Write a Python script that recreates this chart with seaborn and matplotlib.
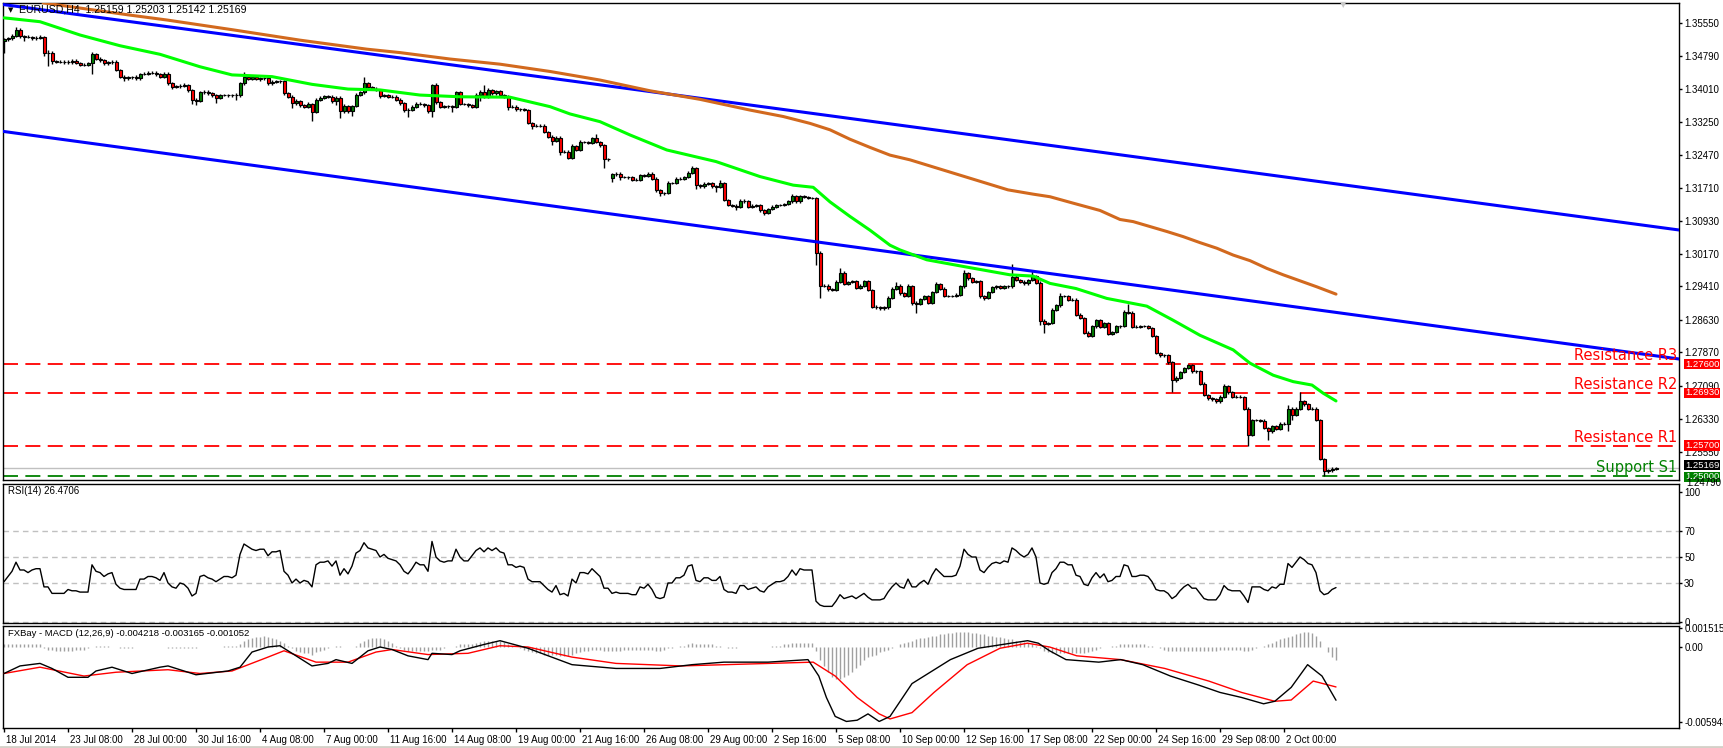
import numpy as np
import matplotlib
matplotlib.use("Agg")
import matplotlib.pyplot as plt
import matplotlib.transforms as mtransforms
from matplotlib.lines import Line2D
import seaborn as sns

# ---------------- data ----------------
first_open = 1.3514
open_overrides = {152: 1.3193}   # weekend gap
closes = [
    1.3517,1.3519,1.3525,1.3539,1.3524,1.3522,1.3522,1.3519,1.3521,1.3522,
    1.3484,1.3486,1.3466,1.3465,1.3465,1.3463,1.3465,1.3467,1.3462,1.3458,
    1.3458,1.3461,1.3482,1.3471,1.3469,1.3461,1.3463,1.3465,1.3445,1.3430,
    1.3426,1.3428,1.3429,1.3426,1.3436,1.3437,1.3438,1.3439,1.3435,1.3430,
    1.3437,1.3414,1.3406,1.3407,1.3409,1.3410,1.3399,1.3376,1.3373,1.3393,
    1.3395,1.3391,1.3386,1.3380,1.3387,1.3387,1.3386,1.3386,1.3387,1.3414,
    1.3430,1.3424,1.3428,1.3424,1.3426,1.3427,1.3414,1.3418,1.3419,1.3420,
    1.3391,1.3383,1.3368,1.3373,1.3364,1.3360,1.3366,1.3347,1.3375,1.3381,
    1.3384,1.3383,1.3372,1.3381,1.3349,1.3362,1.3349,1.3362,1.3387,1.3393,
    1.3414,1.3406,1.3402,1.3399,1.3385,1.3386,1.3383,1.3383,1.3376,1.3368,
    1.3352,1.3352,1.3360,1.3367,1.3366,1.3364,1.3349,1.3410,1.3370,1.3360,
    1.3362,1.3362,1.3360,1.3393,1.3366,1.3366,1.3363,1.3360,1.3387,1.3395,
    1.3383,1.3399,1.3391,1.3396,1.3386,1.3383,1.3360,1.3360,1.3354,1.3355,
    1.3352,1.3322,1.3316,1.3316,1.3316,1.3301,1.3290,1.3280,1.3288,1.3254,
    1.3255,1.3241,1.3268,1.3260,1.3278,1.3278,1.3276,1.3286,1.3278,1.3270,
    1.3237,1.3237,1.3202,1.3204,1.3196,1.3196,1.3195,1.3190,1.3189,1.3200,
    1.3198,1.3204,1.3192,1.3166,1.3158,1.3159,1.3182,1.3182,1.3192,1.3192,
    1.3196,1.3205,1.3216,1.3177,1.3174,1.3180,1.3181,1.3174,1.3173,1.3181,
    1.3142,1.3131,1.3129,1.3127,1.3141,1.3139,1.3127,1.3129,1.3131,1.3118,
    1.3113,1.3121,1.3127,1.3131,1.3131,1.3133,1.3139,1.3152,1.3139,1.3151,
    1.3149,1.3147,1.3147,1.3020,1.2943,1.2943,1.2934,1.2933,1.2951,1.2973,
    1.2947,1.2951,1.2953,1.2938,1.2943,1.2953,1.2933,1.2894,1.2892,1.2890,
    1.2892,1.2915,1.2935,1.2943,1.2925,1.2919,1.2942,1.2903,1.2901,1.2912,
    1.2919,1.2903,1.2928,1.2947,1.2936,1.2919,1.2919,1.2919,1.2922,1.2941,
    1.2972,1.2960,1.2952,1.2954,1.2918,1.2914,1.2928,1.2939,1.2941,1.2938,
    1.2942,1.2941,1.2964,1.2956,1.2952,1.2948,1.2956,1.2965,1.2950,1.2861,
    1.2853,1.2856,1.2887,1.2897,1.2919,1.2919,1.2910,1.2910,1.2875,1.2867,
    1.2833,1.2826,1.2848,1.2862,1.2846,1.2856,1.2830,1.2835,1.2848,1.2849,
    1.2882,1.2880,1.2846,1.2847,1.2849,1.2849,1.2844,1.2825,1.2786,1.2780,
    1.2780,1.2764,1.2722,1.2728,1.2741,1.2751,1.2758,1.2743,1.2743,1.2714,
    1.2688,1.2680,1.2678,1.2673,1.2684,1.2709,1.2694,1.2684,1.2684,1.2683,
    1.2656,1.2595,1.2630,1.2630,1.2628,1.2611,1.2603,1.2615,1.2609,1.2621,
    1.2620,1.2656,1.2641,1.2656,1.2674,1.2666,1.2656,1.2656,1.2630,1.2539,
    1.2510,1.2512,1.2516,1.25169,
]
# wick lengths above / below the body, in pips
up_wick = [
    3,3,4,7,5,3,4,3,3,6,  3,7,3,3,4,3,3,5,3,3,  3,4,6,4,4,3,4,3,3,3,
    3,4,3,4,3,4,5,3,4,3,  4,3,3,3,3,4,3,3,3,4,  3,4,3,3,3,3,3,3,4,3,
    10,4,3,4,3,3,3,4,3,3, 3,3,3,4,3,3,4,3,5,4,  4,3,3,4,3,4,3,3,4,3,
    16,3,3,3,3,3,4,3,3,3, 3,4,3,3,3,3,3,3,4,3,  3,3,3,4,3,3,3,3,4,4,
    15,4,3,3,3,3,3,3,3,3, 3,3,3,3,3,3,3,3,3,3,  3,3,4,3,4,3,3,4,10,3,
    3,3,3,3,3,3,3,3,3,4,  3,4,3,3,3,3,4,3,4,3,  3,4,5,3,3,4,3,3,3,8,
    3,3,3,3,4,3,3,3,3,3,  3,3,3,3,3,3,4,4,3,3,  3,3,3,3,4,3,3,3,4,10,
    3,3,3,4,3,3,3,3,3,3,  3,3,4,8,3,3,4,3,3,3,  3,3,3,4,3,3,3,3,3,4,
    8,3,3,3,3,3,3,3,3,3,  3,3,29,3,3,3,3,13,3,3, 3,3,3,3,6,3,3,3,3,3,
    3,3,3,3,3,3,3,3,3,3,  3,17,3,3,3,3,3,3,3,3, 3,3,3,3,3,3,3,3,3,3,
    3,3,3,3,3,4,3,3,3,3,  3,3,3,3,3,3,3,3,3,3,  3,8,3,3,21,3,3,3,3,3,
    3,3,3,3,
]
lo_wick = [
    30,3,3,3,3,10,3,4,3,3, 5,30,7,3,3,4,3,5,3,4, 3,3,26,3,4,4,3,3,3,4,
    6,3,4,3,3,3,3,3,4,4,   3,3,4,3,3,3,4,10,10,3, 3,3,4,12,3,3,3,3,10,4,
    3,3,3,3,4,3,4,3,3,3,   4,4,12,3,4,4,3,20,2,3, 3,3,4,8,15,3,4,10,3,3,
    3,3,3,3,4,3,3,3,3,3,   5,16,3,3,3,4,4,12,3,4, 3,4,12,3,3,3,3,3,3,15,
    3,3,3,3,3,3,8,3,3,3,   3,3,8,3,3,3,3,10,3,7,  3,3,3,3,3,3,3,3,3,4,
    20,3,8,3,7,3,3,3,3,3,  3,3,3,4,6,3,3,3,3,3,   3,3,3,10,3,3,3,3,12,3,
    3,3,3,8,3,3,3,3,3,4,   5,3,3,3,3,3,3,3,3,3,   3,3,3,28,28,3,4,3,3,3,
    3,3,3,3,3,4,3,3,3,3,   3,3,3,3,3,3,3,5,22,3,  3,3,3,3,3,3,3,3,3,3,
    3,3,3,3,3,4,3,3,3,3,   3,3,3,3,3,3,3,3,3,10,  20,3,3,3,3,3,3,3,3,3,
    4,3,3,3,3,3,3,3,3,3,   3,3,3,3,3,3,3,3,3,3,   3,3,28,3,3,3,3,3,3,3,
    3,3,4,4,3,3,3,3,3,3,   3,27,3,3,3,3,20,3,3,3, 3,15,12,3,3,3,3,3,3,3,
    10,3,3,3,
]
# moving averages (bar index, price)
ma50_idx = [0, 9, 19, 29, 39, 49, 57, 67, 77, 86, 94, 104, 114, 126.5, 136.5, 141.5, 149,
            156.5, 165.7, 178, 189, 197.3, 202.3, 206.5, 211.5, 216.5, 221.5, 224, 230.7,
            240.7, 251.5, 257.3, 261.5, 268, 275.7, 285.7, 292.3, 299, 307.3, 311.5, 317.3,
            322.3, 327, 329.8, 333]
ma50_val = [1.3567, 1.3558, 1.3527, 1.3502, 1.3482, 1.3453, 1.3434, 1.3430, 1.3412, 1.3401,
            1.3399, 1.3387, 1.3383, 1.3382, 1.3360, 1.3343, 1.3325, 1.3294, 1.3259, 1.3232,
            1.3197, 1.3177, 1.3172, 1.3138, 1.3104, 1.3072, 1.3037, 1.3026, 1.3003, 1.2986,
            1.2968, 1.2965, 1.2948, 1.2936, 1.2913, 1.2895, 1.2862, 1.2827, 1.2793, 1.2762,
            1.2734, 1.2719, 1.2711, 1.2692, 1.2674]
ma200_idx = [9.75, 31, 40.7, 57.3, 74, 90.7, 99, 111.5, 124, 136.5, 149, 161.5, 174, 186.5,
             194.8, 201.5, 206.5, 211.5, 216.5, 221.5, 226.5, 251, 257.3, 261.5, 267.3, 274,
             279, 282.3, 290.7, 294.8, 299, 303.2, 307.3, 311.5, 315.7, 319.8, 324, 328.2, 333]
ma200_val = [1.3602, 1.3574, 1.3562, 1.3539, 1.3515, 1.3494, 1.3486, 1.3471, 1.3459, 1.3442,
             1.3422, 1.3397, 1.3377, 1.3352, 1.3337, 1.3321, 1.3306, 1.3284, 1.3265, 1.3247,
             1.3236, 1.3166, 1.3156, 1.3150, 1.3135, 1.3118, 1.3097, 1.3092, 1.3069, 1.3057,
             1.3043, 1.3030, 1.3014, 1.3001, 1.2983, 1.2968, 1.2954, 1.2940, 1.2923]
# channel trend lines (bar index, price)
upper_trend_x = [-1.0, 418.75]
upper_trend_y = [1.3599, 1.30725]
lower_trend_x = [-1.0, 418.75]
lower_trend_y = [1.33033, 1.27718]
# horizontal levels
level_names = ["Resistance R3", "Resistance R2", "Resistance R1", "Support S1"]
level_values = [1.2760, 1.2693, 1.2570, 1.2500]
level_colors = ["#ff0000", "#ff0000", "#ff0000", "#008000"]
bid_price = 1.25169
price_ticks = [1.3555, 1.3479, 1.3401, 1.3325, 1.3247, 1.3171, 1.3093, 1.3017,
               1.2941, 1.2863, 1.2787, 1.2709, 1.2633, 1.2555]
# RSI(14)
rsi = [
    31,35,39,46,40,40,38,40,41,41, 27,27,22,22,22,22,25,24,24,23, 23,23,44,39,38,35,37,38,29,26,
    25,25,25,25,33,33,35,35,34,32, 38,30,27,26,30,29,26,20,22,35, 36,34,33,31,33,35,35,34,36,52,
    60,58,56,55,56,56,51,54,54,55, 39,36,30,33,30,32,31,27,44,46, 46,47,43,47,36,41,37,43,53,55,
    61,57,56,55,50,52,49,48,47,44, 39,37,41,46,44,44,39,62,50,47, 46,47,47,56,50,47,47,51,55,57,
    54,57,55,57,54,53,44,44,42,43, 42,33,31,31,31,28,25,23,28,21, 22,20,33,30,38,38,37,41,38,35,
    26,26,22,23,22,22,22,21,21,27, 26,29,25,19,18,19,30,30,34,34, 36,43,44,32,31,34,34,32,32,35,
    25,23,23,22,28,28,25,26,27,24, 23,27,29,31,31,32,35,40,36,41, 40,40,40,16,13,12,12,12,16,21,
    18,19,20,18,20,22,19,17,17,17, 18,23,27,30,27,26,33,27,27,30, 32,29,36,41,38,35,35,35,36,43,
    56,52,50,50,40,38,42,45,46,45, 47,46,57,55,52,50,52,57,50,30, 29,30,38,41,46,46,44,44,36,35,
    29,28,34,38,34,37,31,32,35,35, 44,43,35,35,36,36,35,31,25,24, 24,22,18,20,24,27,29,26,26,22,
    18,17,17,17,21,28,25,24,24,24, 20,15,27,27,27,25,24,27,26,29, 29,45,42,46,50,48,45,44,38,24,
    21,22,25,26.47,
]
rsi_levels = [70, 50, 30]
# MACD (12,26,9) main line and signal, in units of 1e-4
macd_idx = [0,4,9,12,16,21,23,27,32,39,41,48,56,59,62,66,69,72,77,81,83,87,91,94,97,101,106,107,
            112,114,120,124,131,142,153,164,172,180,191,201,203.7,205.6,207.8,210.6,213.3,216,
            218.8,221.5,227,236.6,243.5,251.7,255.9,258.6,261.4,265.5,273.7,279.2,284.7,291.6,
            298.5,304,309.4,314.9,317.7,321.8,325.9,329.5,333]
macd_val = [-21,-15,-13,-17,-24,-24,-19,-16,-21,-16,-15,-22,-19,-16,-4,0,1,-5,-15,-13,-10,-13,-3,
            0,-2,-7,-10,-5,-6,-3,2,5,-1,-14,-17,-17,-14,-12,-12,-10,-23,-40,-55,-59,-58,-53,
            -59,-55,-29,-10,-1,3,5,3,-3,-10,-12,-10,-14,-23,-30,-36,-40,-45,-43,-32,-14,-23,-42.18]
signal_idx = [0,9,20,28,41,49,57,66,70,78,86,93,97,106,116,124,131,142,153,169.3,191.3,202.3,
              207.8,213.3,218.8,221.5,227,232.5,240.8,249,255.9,261.4,268.2,279.2,290.2,301.2,
              309.4,317.7,321.8,327.3,333]
signal_val = [-21,-16,-23,-20,-18,-21,-19,-8,-3,-12,-12,-4,-2,-6,-5,1,0,-8,-13,-15,-13,-12,
              -23,-40,-53,-57,-52,-36,-14,-1,3,0,-7,-10,-17,-27,-36,-43,-42,-27,-31.65]
hist = [
    2,2,2,2,2,2,2,2,2,2, -1,-2,-2,-3,-3,-3,-3,-3,-2,-2, -2,-1,0,1,1,1,1,0,0,-1,
    -1,-1,-1,0,0,0,0,0,0,0, 0,-1,-1,-1,-1,-1,-1,-1,-1,0, 0,0,0,0,0,1,1,1,1,2,
    5,6,7,8,8,9,8,7,6,5, 3,1,-1,-3,-4,-5,-5,-6,-4,-3, -2,-1,0,1,1,0,0,0,1,3,
    5,6,7,7,7,6,5,3,1,-1, -2,-3,-3,-3,-3,-3,-3,-2,-2,-2, -1,0,0,1,2,2,2,2,3,4,
    5,5,5,5,5,4,2,1,0,-1, -2,-3,-4,-5,-5,-6,-6,-6,-6,-7, -7,-7,-6,-5,-4,-3,-3,-2,-2,-2,
    -3,-3,-3,-3,-3,-2,-2,-2,-2,-2, -2,-2,-2,-3,-3,-2,-1,-1,0,1, 1,2,3,2,2,2,2,2,1,1,
    0,-1,-1,-1,0,0,0,0,0,0, 0,0,1,1,1,2,2,3,3,3, 3,3,3,-3,-10,-15,-20,-24,-25,-25,
    -24,-22,-20,-17,-14,-10,-8,-7,-6,-4, -3,-2,-1,0,2,3,4,5,6,7, 7,8,9,9,10,10,11,11,12,12,
    12,12,11,11,10,10,9,9,8,8, 7,6,6,5,4,4,3,2,1,-1, -3,-4,-5,-5,-5,-5,-5,-5,-5,-5,
    -5,-4,-3,-2,-1,0,0,1,1,2, 2,2,2,2,2,2,1,1,0,-1, -2,-3,-3,-3,-3,-3,-3,-3,-3,-3,
    -3,-3,-3,-3,-2,-2,-2,-2,-2,-2, -3,-3,-2,-1,0,1,2,3,5,6, 7,8,9,10,11,12,12,11,9,5,
    0,-4,-8,-10.52,
]
macd_ticks = [0.001515, 0.0, -0.005943]
macd_tick_labels = ["0.001515", "0.00", "-0.005943"]
xtick_bars = list(range(0, 321, 16))
xtick_labels = ["18 Jul 2014", "23 Jul 08:00", "28 Jul 00:00", "30 Jul 16:00", "4 Aug 08:00",
                "7 Aug 00:00", "11 Aug 16:00", "14 Aug 08:00", "19 Aug 00:00", "21 Aug 16:00",
                "26 Aug 08:00", "29 Aug 00:00", "2 Sep 16:00", "5 Sep 08:00", "10 Sep 00:00",
                "12 Sep 16:00", "17 Sep 08:00", "22 Sep 00:00", "24 Sep 16:00", "29 Sep 08:00",
                "2 Oct 00:00"]
title_main = "EURUSD,H4  1.25159 1.25203 1.25142 1.25169"
title_rsi = "RSI(14) 26.4706"
title_macd = "FXBay - MACD (12,26,9) -0.004218 -0.003165 -0.001052"

n = len(closes)
assert len(up_wick) == n and len(lo_wick) == n and len(rsi) == n and len(hist) == n, \
    (n, len(up_wick), len(lo_wick), len(rsi), len(hist))
assert len(macd_idx) == len(macd_val) and len(signal_idx) == len(signal_val)
assert len(ma50_idx) == len(ma50_val) and len(ma200_idx) == len(ma200_val)

# ---------------- style ----------------
sns.set_theme(style="white")
plt.rcParams['font.family'] = ['Liberation Sans', 'DejaVu Sans']
plt.rcParams['lines.scale_dashes'] = False

W, H = 1723, 748
fig = plt.figure(figsize=(W / 100, H / 100), dpi=100, facecolor='white')


def add_ax(l, t, r, b):
    return fig.add_axes([l / W, 1 - b / H, (r - l) / W, (b - t) / H])


def ftext(x, y, s, **kw):
    return fig.text(x / W, 1 - y / H, s, **kw)


ax = add_ax(3, 3, 1679, 480)
ax_rsi = add_ax(3, 484, 1679, 623)
ax_macd = add_ax(3, 626, 1679, 728)

XMIN, XMAX = -0.25, 418.75
for a in (ax, ax_rsi, ax_macd):
    a.set_xlim(XMIN, XMAX)
    a.set_facecolor('white')
    for s in a.spines.values():
        s.set_visible(True)
        s.set_color('black')
        s.set_linewidth(1.0)
    a.yaxis.tick_right()
    a.tick_params(axis='y', which='both', right=True, left=False, labelright=True,
                  labelleft=False, direction='out', length=2.2, width=1, pad=1.5,
                  labelsize=7, colors='black')
    a.tick_params(axis='x', bottom=False, labelbottom=False)

# ---------------- main price panel ----------------
idx = np.arange(n)
c = np.array(closes)
o = np.concatenate([[first_open], c[:-1]])
for k, v in open_overrides.items():
    o[k] = v
pip = 0.0001
hi = np.maximum(o, c) + np.array(up_wick) * pip
lo = np.minimum(o, c) - np.array(lo_wick) * pip

ax.set_ylim(1.24897, 1.36016)
ax.axhline(bid_price, color='#c0c0c0', lw=1, zorder=1)
for val, col in zip(level_values, level_colors):
    ax.axhline(val, color=col, lw=1.3, ls=(0, (10.8, 5.3)), zorder=1.5)

ax.vlines(idx, lo, hi, color='black', lw=1, zorder=3)
up = c >= o
dn = ~up
ax.bar(idx[up], (c - o)[up], bottom=o[up], width=0.75, color='#008000',
       edgecolor='black', linewidth=0.8, zorder=4)
ax.bar(idx[dn], (c - o)[dn], bottom=o[dn], width=0.75, color='#ff0000',
       edgecolor='black', linewidth=0.8, zorder=4)

sns.lineplot(x=upper_trend_x, y=upper_trend_y, ax=ax, color='#0000ff', lw=2.2, zorder=5)
sns.lineplot(x=lower_trend_x, y=lower_trend_y, ax=ax, color='#0000ff', lw=2.2, zorder=5)
sns.lineplot(x=ma200_idx, y=ma200_val, ax=ax, color='#d2691e', lw=2.2, sort=False, zorder=5)
sns.lineplot(x=ma50_idx, y=ma50_val, ax=ax, color='#00ff00', lw=2.2, sort=False, zorder=5)

ax.set_yticks(price_ticks)
ax.set_yticklabels([f"{t:.5f}" for t in price_ticks])
ax.set_xticks([])

for name, val, col in zip(level_names, level_values, level_colors):
    ax.annotate(name, xy=(1, val), xycoords=('axes fraction', 'data'), xytext=(-2, 1),
                textcoords='offset pixels', ha='right', va='bottom', color=col,
                fontsize=10.5, family=['DejaVu Sans'], zorder=8)

ftext(1686, 483, "1.24790", fontsize=7, ha='left', va='center', color='black', zorder=1)
box_items = [(1.2760, '#ff0000', 0), (1.2693, '#ff0000', 0), (1.2570, '#ff0000', 0),
             (bid_price, '#000000', 3), (1.2500, '#008000', -1)]
for val, col, dy in box_items:
    ax.annotate(f"{val:.5f}", xy=(1, val), xycoords=('axes fraction', 'data'),
                xytext=(6, dy), textcoords='offset pixels', ha='left', va='center',
                color='white', fontsize=6.8,
                bbox=dict(boxstyle='square,pad=0.06', fc=col, ec='none'),
                annotation_clip=False, zorder=10)

ftext(11, 10, "\u25BC", fontsize=5, ha='center', va='center', color='black',
      family=['DejaVu Sans'])
ftext(19, 10, title_main, fontsize=7.6, ha='left', va='center', color='black')
ftext(1343, 5, "\u25BC", fontsize=6, ha='center', va='center', color='#c8c8c8',
      family=['DejaVu Sans'])

# ---------------- RSI panel ----------------
ax_rsi.set_ylim(-0.8, 106.2)
for lv in rsi_levels + [0]:
    ax_rsi.axhline(lv, color='#c0c0c0', lw=1, ls=(0, (4, 3)), zorder=1)
sns.lineplot(x=idx, y=rsi, ax=ax_rsi, color='black', lw=1, zorder=3)
ax_rsi.set_yticks([0, 30, 50, 70, 100])
ax_rsi.set_yticklabels(["0", "30", "50", "70", "100"])
ax_rsi.set_xticks([])
ftext(8, 491, title_rsi, fontsize=7, ha='left', va='center', color='black')

# ---------------- MACD panel ----------------
ax_macd.set_ylim(-0.006418, 0.001664)
ax_macd.vlines(idx, 0, np.array(hist) * 1e-4, color='#a0a0a0', lw=1, zorder=1)
sns.lineplot(x=signal_idx, y=np.array(signal_val) * 1e-4, ax=ax_macd, color='#ff0000',
             lw=1, sort=False, zorder=3)
sns.lineplot(x=macd_idx, y=np.array(macd_val) * 1e-4, ax=ax_macd, color='black',
             lw=1, sort=False, zorder=4)
ax_macd.set_yticks(macd_ticks)
ax_macd.set_yticklabels(macd_tick_labels)
ax_macd.set_xticks(xtick_bars)
ax_macd.set_xticklabels(xtick_labels)
ax_macd.tick_params(axis='x', bottom=True, labelbottom=True, direction='out', length=3,
                    width=1, pad=2, labelsize=7, colors='black')
offset = mtransforms.ScaledTranslation(2 / 100, 0, fig.dpi_scale_trans)
for lab in ax_macd.get_xticklabels():
    lab.set_horizontalalignment('left')
    lab.set_transform(lab.get_transform() + offset)
ftext(8, 634, title_macd, fontsize=6.8, ha='left', va='center', color='black')

for a in (ax, ax_rsi, ax_macd):
    a.set_xlabel("")
    a.set_ylabel("")
    leg = a.get_legend()
    if leg is not None:
        leg.remove()

fig.add_artist(Line2D([0, 1], [1.5 / H, 1.5 / H], transform=fig.transFigure,
                      color='#d4d0c8', lw=2))

fig.savefig("out.png", dpi=100, facecolor='white')
